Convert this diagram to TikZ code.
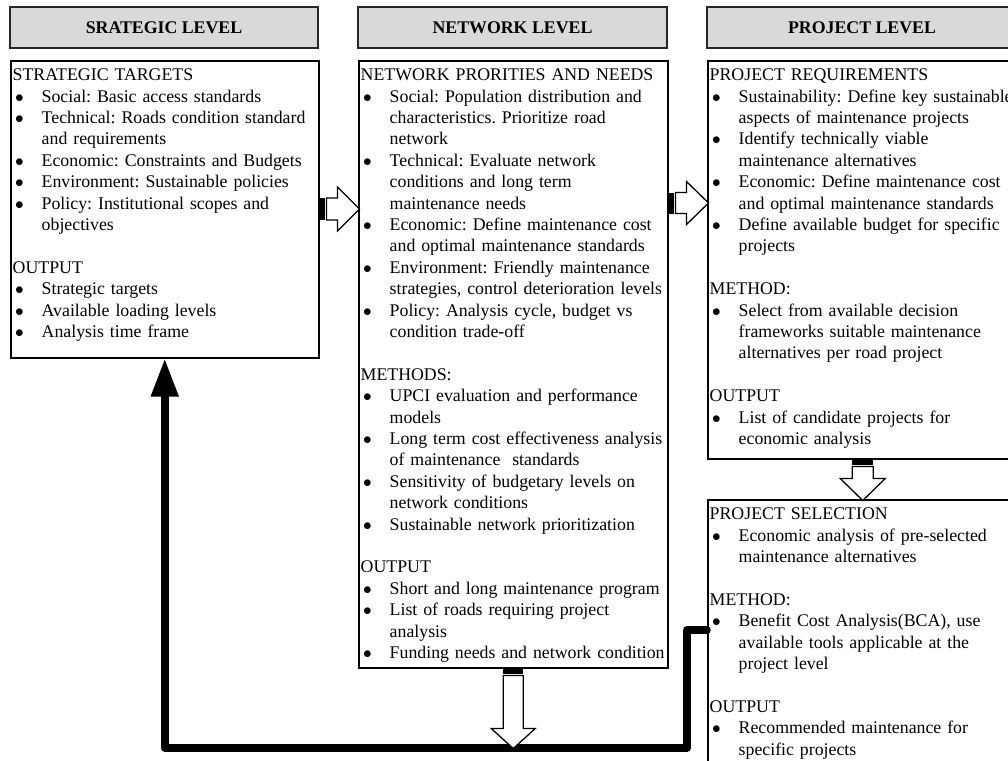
\documentclass[tikz,border=0pt]{standalone}
\usepackage{fontspec}
\setmainfont{Liberation Serif}
\usetikzlibrary{arrows.meta,calc}

% bullet item with a hanging indent, a section title, an empty line
\newcommand\bitem[1]{\par\hangindent=29pt\hangafter=1\noindent
  \makebox[29pt][l]{\hspace{2.5pt}$\bullet$}#1\par}
\newcommand\bhead[1]{\par\noindent#1\par}
\newcommand\blankline{\par\noindent\mbox{}\par}
\newcommand\firstline{\rule{0pt}{14.5pt}}

% block arrow with a striped tail, drawn along the local x axis
\newcommand\stripedarrow[4]{% #1 length, #2 shaft half width, #3 head half width, #4 head length
  \fill[black] (0,-#2) rectangle (5,#2);
  \draw[blockarrow] (7,-#2) -- ({#1-#4},-#2) -- ({#1-#4},-#3) -- (#1,0)
    -- ({#1-#4},#3) -- ({#1-#4},#2) -- (7,#2) -- cycle;}

\tikzset{
  levelhead/.style={draw=black!85, line width=1.6pt, fill=black!15,
    minimum height=41pt, inner sep=0pt,
    font=\fontsize{17.8}{21.4}\selectfont\bfseries},
  panel/.style={draw=black, line width=1.5pt, fill=white, anchor=north west, inner sep=0pt},
  paneltext/.style={anchor=north west, inner sep=0pt, text width=430pt, align=left,
    font=\fontsize{17.8}{21.4}\selectfont\frenchspacing},
  blockarrow/.style={draw=black, line width=1.3pt, fill=white, line join=miter},
  feedback/.style={line width=7.5pt, line cap=round, line join=round,
    -{Triangle[length=38pt,width=26pt]}}
}

\begin{document}
\begin{tikzpicture}[x=1pt,y=-1pt]
\useasboundingbox (0,0) rectangle (1008,760);

% level headings
\node[levelhead, minimum width=308pt] (hstrat) at (164,27.5) {SRATEGIC LEVEL};
\node[levelhead, minimum width=309pt] (hnet) at (512.5,27.5) {NETWORK LEVEL};
\node[levelhead, minimum width=310pt] (hproj) at (862,27.5) {PROJECT LEVEL};

% panels
\node[panel, minimum width=308pt, minimum height=297pt] (strat) at (10,60) {};
\node[panel, minimum width=309pt, minimum height=607pt] (net) at (358,60) {};
\node[panel, minimum width=310pt, minimum height=398pt] (req) at (707,60) {};
\node[panel, minimum width=310pt, minimum height=301pt] (sel) at (707,499) {};

% panel contents
\node[paneltext] (strattext) at ($(strat.north west)+(2.5,-1)$) {%
\bhead{\firstline STRATEGIC TARGETS}
\bitem{Social: Basic access standards}
\bitem{Technical: Roads condition standard\newline and requirements}
\bitem{Economic: Constraints and Budgets}
\bitem{Environment: Sustainable policies}
\bitem{Policy: Institutional scopes and\newline objectives}
\blankline
\bhead{OUTPUT}
\bitem{Strategic targets}
\bitem{Available loading levels}
\bitem{Analysis time frame}};

\node[paneltext] (nettext) at ($(net.north west)+(2.5,-1)$) {%
\bhead{\firstline NETWORK PRORITIES AND NEEDS}
\bitem{Social: Population distribution and\newline characteristics. Prioritize road\newline network}
\bitem{Technical: Evaluate network\newline conditions and long term\newline maintenance needs}
\bitem{Economic: Define maintenance cost\newline and optimal maintenance standards}
\bitem{Environment: Friendly maintenance\newline strategies, control deterioration levels}
\bitem{Policy: Analysis cycle, budget vs\newline condition trade-off}
\blankline
\bhead{METHODS:}
\bitem{UPCI evaluation and performance\newline models}
\bitem{Long term cost effectiveness analysis\newline of maintenance\ \ standards}
\bitem{Sensitivity of budgetary levels on\newline network conditions}
\bitem{Sustainable network prioritization}
\blankline
\bhead{OUTPUT}
\bitem{Short and long maintenance program}
\bitem{List of roads requiring project\newline analysis}
\bitem{Funding needs and network condition}};

\node[paneltext] (reqtext) at ($(req.north west)+(2.5,-1)$) {%
\bhead{\firstline PROJECT REQUIREMENTS}
\bitem{Sustainability: Define key sustainable\newline aspects of maintenance projects}
\bitem{Identify technically viable\newline maintenance alternatives}
\bitem{Economic: Define maintenance cost\newline and optimal maintenance standards}
\bitem{Define available budget for specific\newline projects}
\blankline
\bhead{METHOD:}
\bitem{Select from available decision\newline frameworks suitable maintenance\newline alternatives per road project}
\blankline
\bhead{OUTPUT}
\bitem{List of candidate projects for\newline economic analysis}};

\node[paneltext] (seltext) at ($(sel.north west)+(2.5,-1)$) {%
\bhead{\firstline PROJECT SELECTION}
\bitem{Economic analysis of pre-selected\newline maintenance alternatives}
\blankline
\bhead{METHOD:}
\bitem{Benefit Cost Analysis(BCA), use\newline available tools applicable at the\newline project level}
\blankline
\bhead{OUTPUT}
\bitem{Recommended maintenance for\newline specific projects}};

% reference heights for the connectors
\coordinate (row1) at (0,209);
\coordinate (row2) at (0,203);
\coordinate (row3) at (0,630);
\coordinate (row4) at (0,748);
\coordinate (fbturn) at (687,630);
\coordinate (fbstart) at (sel.west |- row3);

% feedback from project selection back to the strategic level
\draw[feedback] (fbstart) -- (fbturn) |- (strat.south |- row4) -- (strat.south);

% striped block arrows between the panels
\begin{scope}[shift={(strat.east |- row1)}]
  \stripedarrow{40}{11}{22}{22}
\end{scope}
\begin{scope}[shift={(net.east |- row2)}]
  \stripedarrow{40}{10.5}{21.5}{22}
\end{scope}
\begin{scope}[shift={(req.south)}, rotate=-90]
  \stripedarrow{41}{10.5}{22.5}{22}
\end{scope}
\begin{scope}[shift={(net.south)}, rotate=-90]
  \stripedarrow{80}{10}{22}{20}
\end{scope}
\end{tikzpicture}
\end{document}
